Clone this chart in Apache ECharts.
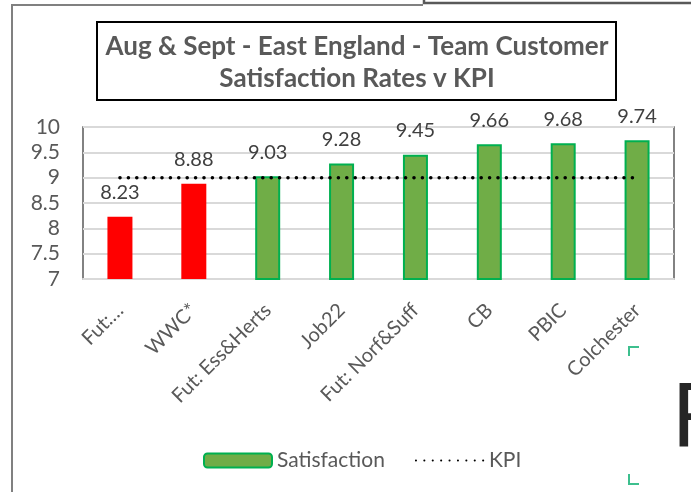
<!DOCTYPE html>
<html>
<head>
<meta charset="utf-8">
<script src="https://cdn.jsdelivr.net/npm/echarts@6/dist/echarts.min.js"></script>
<style>
    html, body { margin: 0; padding: 0; background: #fff; }
    #chart { width: 691px; height: 492px; }
</style>
</head>
<body>
<div id="chart"></div>
<script>
// data
var categories = ['Fut:…', 'WWC*', 'Fut: Ess&Herts', 'Job22', 'Fut: Norf&Suff', 'CB', 'PBIC', 'Colchester'];
var satisfaction = [8.23, 8.88, 9.03, 9.28, 9.45, 9.66, 9.68, 9.74];
var kpi = [9, 9, 9, 9, 9, 9, 9, 9];
var yTicks = [7, 7.5, 8, 8.5, 9, 9.5, 10];

var fontName = 'Lato';

GenChart();

function GenChart() {
    var myChart = echarts.init(document.getElementById('chart'));

    // red when under the KPI, green otherwise
    var barData = satisfaction.map(function (v, i) {
        if (v < kpi[i]) {
            return { value: v, itemStyle: { color: '#FF0000', borderWidth: 0 } };
        }
        return v;
    });

    var option = {
        animation: false,
        backgroundColor: '#ffffff',
        textStyle: { fontFamily: fontName },
        title: {
            text: 'Aug & Sept - East England - Team Customer\nSatisfaction Rates v KPI',
            left: 352,
            top: 26,
            textAlign: 'center',
            textStyle: {
                fontFamily: fontName,
                fontSize: 26,
                fontWeight: 'bold',
                color: '#595959',
                lineHeight: 32
            }
        },
        grid: {
            left: 83,
            right: 17,
            top: 127,
            bottom: 213,
            show: true,
            borderColor: '#595959',
            borderWidth: 1.5
        },
        legend: {
            left: 198,
            top: 445,
            itemWidth: 68,
            itemHeight: 14,
            itemGap: 30,
            textStyle: { fontFamily: fontName, fontSize: 21, color: '#595959' },
            data: [
                'Satisfaction',
                { name: 'KPI', itemStyle: { opacity: 0 } }
            ]
        },
        xAxis: {
            type: 'category',
            data: categories,
            axisTick: { show: false },
            axisLine: { lineStyle: { color: '#d9d9d9', width: 2 } },
            axisLabel: {
                interval: 0,
                rotate: 45,
                margin: 28,
                fontSize: 20,
                color: '#595959',
                fontFamily: fontName
            }
        },
        yAxis: {
            type: 'value',
            min: yTicks[0],
            max: yTicks[yTicks.length - 1],
            interval: 0.5,
            axisLine: { show: false },
            axisTick: { show: false },
            splitLine: { lineStyle: { color: '#d9d9d9', width: 2 } },
            axisLabel: {
                margin: 23,
                fontSize: 21,
                color: '#595959',
                fontFamily: fontName
            }
        },
        series: [
            {
                name: 'Satisfaction',
                type: 'bar',
                barWidth: 25,
                data: barData,
                itemStyle: { color: '#70AD47', borderColor: '#00B050', borderWidth: 2 },
                label: {
                    show: true,
                    position: 'top',
                    distance: 14,
                    fontSize: 20,
                    color: '#404040',
                    fontFamily: fontName
                }
            },
            {
                name: 'KPI',
                type: 'line',
                data: kpi,
                symbol: 'none',
                color: '#000000',
                lineStyle: {
                    color: '#000000',
                    width: 3.5,
                    type: [0.1, 8.3],
                    cap: 'round'
                },
                z: 5
            }
        ],
        graphic: [
            // title box
            { type: 'rect', shape: { x: 97, y: 22, width: 519, height: 78 }, style: { fill: 'none', stroke: '#000', lineWidth: 2 } },
            // outer chart frame (cropped)
            { type: 'polyline', shape: { points: [[12, 492], [12, 5], [423, 5]] }, style: { fill: 'none', stroke: '#808080', lineWidth: 2 } },
            { type: 'polyline', shape: { points: [[424, 0], [424, 3], [691, 3]] }, style: { fill: 'none', stroke: '#595959', lineWidth: 2.5 } },
            // bits of the next slide
            { type: 'polyline', shape: { points: [[629, 356], [629, 347], [639, 347]] }, style: { fill: 'none', stroke: '#3dbf8e', lineWidth: 2 } },
            { type: 'polyline', shape: { points: [[629, 474], [629, 484], [639, 484]] }, style: { fill: 'none', stroke: '#3dbf8e', lineWidth: 2 } },
            { type: 'text', x: 672, y: 422, style: { text: 'R', fontSize: 92, fontFamily: 'Liberation Sans', fill: '#262626', verticalAlign: 'middle' } }
        ]
    };
    myChart.setOption(option);
}
</script>
</body>
</html>
